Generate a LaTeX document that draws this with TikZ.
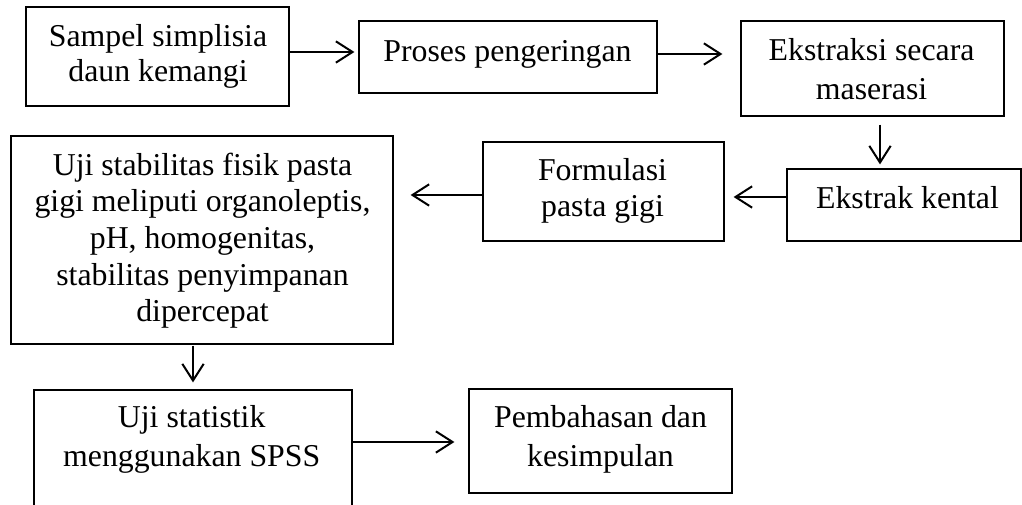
\documentclass[tikz,border=0pt]{standalone}
\usepackage{fontspec}
\setmainfont{Liberation Serif}
\usetikzlibrary{arrows.meta,calc}
\begin{document}
\begin{tikzpicture}[x=0.75pt,y=-0.75pt,
  box/.style={draw=black, line width=0.9pt, inner sep=0pt},
  txt/.style={inner sep=0pt, align=center, anchor=base},
  fsA/.style={font=\fontsize{23.85pt}{27.5pt}\selectfont},
  fsB/.style={font=\fontsize{23.85pt}{26.25pt}\selectfont},
  fsC/.style={font=\fontsize{23.85pt}{29.25pt}\selectfont},
  arr/.style={line width=1.5pt, -{Straight Barb[length=12.5pt,width=16pt,line width=1.5pt]}}]
\useasboundingbox (0,0) rectangle (1022,505);
\fill[white] (0,0) rectangle (1022,505);
\clip (0,0) rectangle (1022,505);
% boxes
\node[box, minimum width=197.25pt, minimum height=74.25pt] (b1) at (157.5,56.5) {};
\node[box, minimum width=223.5pt, minimum height=54pt] (b2) at (508,57) {};
\node[box, minimum width=197.25pt, minimum height=71.25pt] (b3) at (872.5,68.5) {};
\node[box, minimum width=175.5pt, minimum height=54pt] (b4) at (904,205) {};
\node[box, minimum width=180.75pt, minimum height=74.25pt] (b5) at (603.5,191.5) {};
\node[box, minimum width=286.5pt, minimum height=156pt] (b6) at (202,240) {};
\node[box, minimum width=238.5pt, minimum height=105pt] (b7) at (193,460) {};
\node[box, minimum width=197.25pt, minimum height=78pt] (b8) at (600.5,441) {};
% texts (anchor base = baseline of last line)
\node[txt, fsB] (t1) at (158,82) {Sampel simplisia\\daun kemangi};
\node[txt, fsA] (t2) at (507.5,62) {Proses pengeringan};
\node[txt, fsC] (t3) at (871.6,100) {Ekstraksi secara\\maserasi};
\node[txt, fsA] (t4) at (907.5,209) {Ekstrak kental};
\node[txt, fsA] (t5) at (602.5,217) {Formulasi\\pasta gigi};
\node[txt, fsA] (t6) at (202.5,322) {Uji stabilitas fisik pasta\\gigi meliputi organoleptis,\\pH, homogenitas,\\stabilitas penyimpanan\\dipercepat};
\node[txt, fsC] (t7) at (191.7,467) {Uji statistik\\menggunakan SPSS};
\node[txt, fsC] (t8) at (600.5,467) {Pembahasan dan\\kesimpulan};
% arrows
\draw[arr] ($(b1.east)+(0,-4.5)$) -- ($(b2.west)+(-4,-5)$);
\draw[arr] ($(b2.east)+(0,-3)$) -- ($(b3.west)+(-18,-14.5)$);
\draw[arr] ($(b3.south)+(7.5,8)$) -- ($(b4.north)+(-24,-4)$);
\draw[arr] ($(b4.west)+(0,-8)$) -- ($(b5.east)+(9,5.5)$);
\draw[arr] ($(b5.west)+(0,3.5)$) -- ($(b6.east)+(17,-45)$);
\draw[arr] ($(b6.south)+(-9,1)$) -- ($(b7.north)+(0,-7)$);
\draw[arr] ($(b7.east)+(0,-18)$) -- ($(b8.west)+(-14,1)$);
\end{tikzpicture}
\end{document}
